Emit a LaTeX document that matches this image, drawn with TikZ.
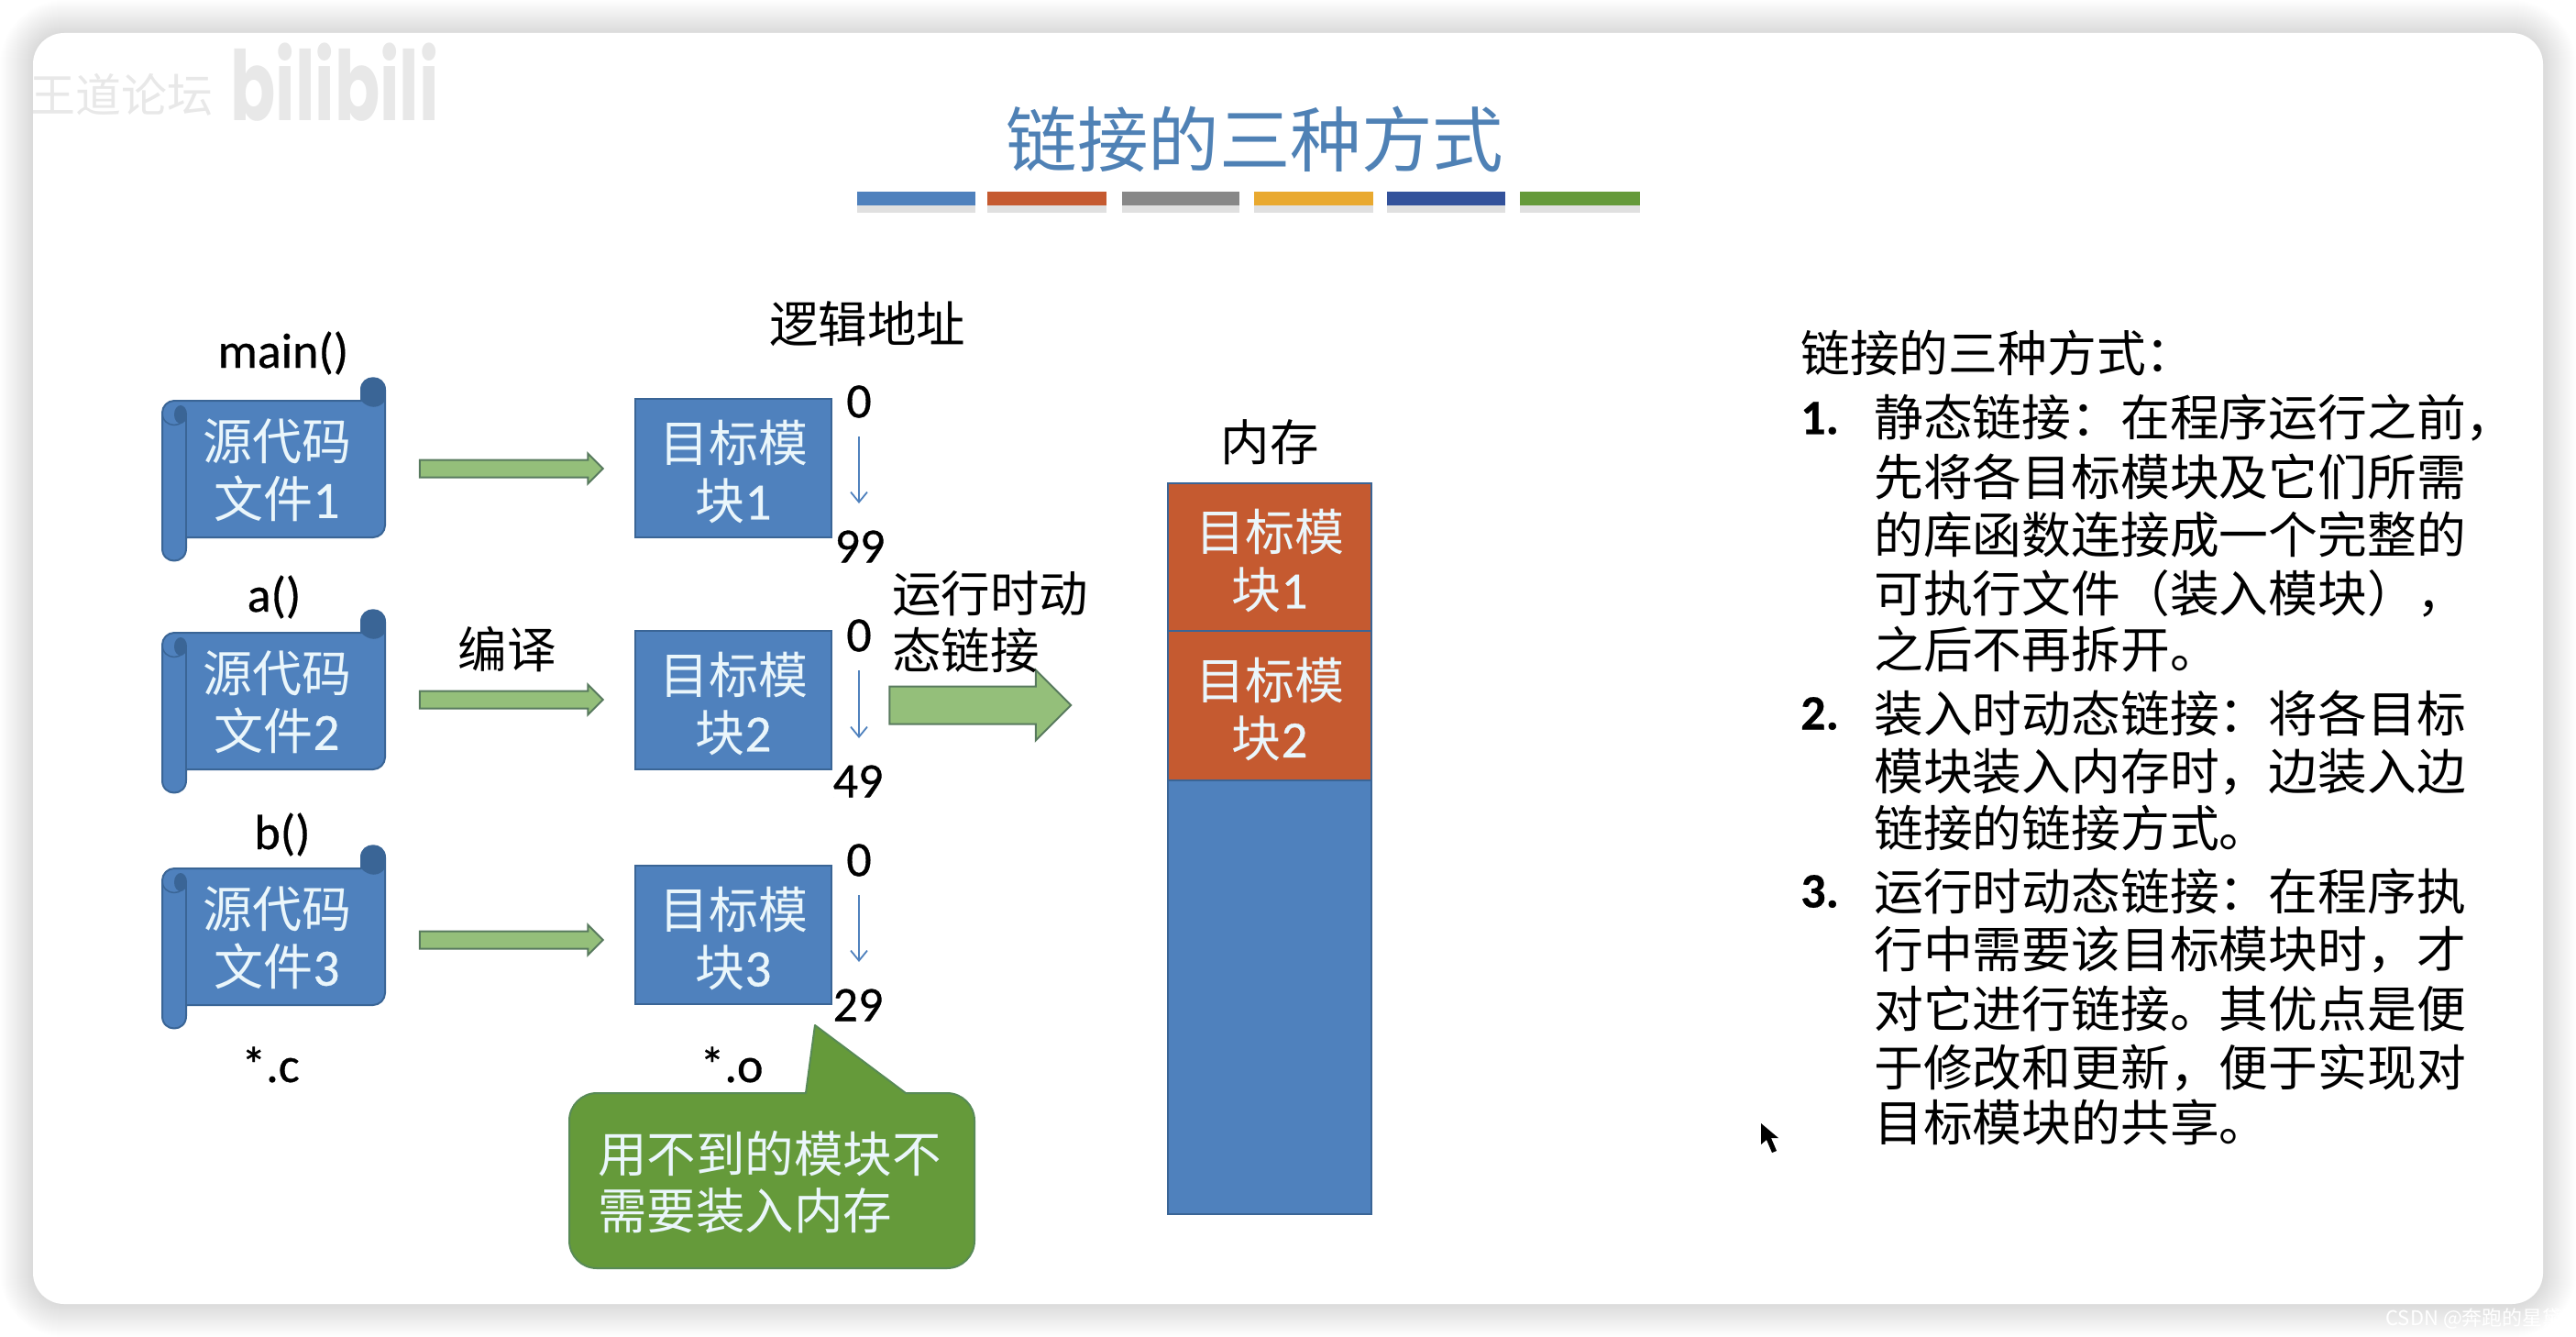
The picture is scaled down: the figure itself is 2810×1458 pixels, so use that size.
\documentclass[tikz,border=0pt]{standalone}
\usepackage{fontspec}
\usetikzlibrary{arrows.meta,shapes.arrows}
\setmainfont{Noto Sans CJK SC}
\newfontfamily\lat[RawFeature={embolden=0.6}]{Carlito}
\newfontfamily\latb[RawFeature={embolden=0.4}]{Carlito Bold}
\newfontfamily\wmark{Poppins}
\definecolor{bluefill}{HTML}{4F81BD}
\definecolor{bluedark}{HTML}{3A6596}
\definecolor{titleblue}{HTML}{4F81B5}
\definecolor{redfill}{HTML}{C55A30}
\definecolor{greenfill}{HTML}{659A3A}
\definecolor{barorange}{HTML}{E9A92F}
\definecolor{barnavy}{HTML}{33529B}
\definecolor{bargray}{HTML}{888888}
\definecolor{arrowgreen}{HTML}{94BF7A}
\definecolor{arrowedge}{HTML}{587A5E}
\definecolor{lighttext}{HTML}{EAF6FB}
\newcommand{\dg}[1]{{\lat\fontsize{57}{63}\selectfont #1}}
\tikzset{
  body/.style={font=\fontsize{53.5}{62}\selectfont,inner sep=0pt,align=center,text=black},
  inbox/.style={font=\fontsize{54}{63}\selectfont,inner sep=0pt,align=center,text=lighttext},
  latin/.style={font=\lat\fontsize{54}{64}\selectfont,inner sep=0pt,text=black},
  modbox/.style={draw=bluedark,fill=bluefill,line width=2pt,minimum width=214pt,minimum height=151pt,inner sep=0pt},
  memcell/.style={draw=bluedark,fill=redfill,line width=1.5pt,minimum width=222pt,inner sep=0pt},
  blockarrow/.style={single arrow,draw=arrowedge,fill=arrowgreen,line width=2pt,inner sep=0pt,
    single arrow tip angle=90,shape border rotate=0,text depth=0pt},
  smallblock/.style={blockarrow,text height=17pt,minimum width=31pt,minimum height=200pt,single arrow head extend=7pt},
  thinarrow/.style={draw=bluefill,line width=1.8pt,-{Straight Barb[length=11pt,width=18pt]}},
  rline/.style={anchor=west,inner sep=0pt,font=\fontsize{53.8}{64}\selectfont,text=black},
  rnum/.style={anchor=west,inner sep=0pt,font=\latb\fontsize{54}{64}\selectfont,text=black},
  scrollbody/.style={fill=bluefill,draw=bluedark,line width=2pt,line join=round},
}
\newcommand{\srcscroll}[3]{%
  \begin{scope}[yshift=#1]
    \draw[scrollbody] (177,450) .. controls (177,443) and (183,437) .. (190,437) -- (394,437) -- (394,425)
      .. controls (394,408) and (420,408) .. (420,425) -- (420,573)
      .. controls (420,580) and (414,586) .. (407,586) -- (203,586) -- (203,598)
      .. controls (203,616) and (177,616) .. (177,598) -- cycle;
    \fill[bluedark] (394,437) -- (394,425) .. controls (394,408) and (420,408) .. (420,425)
      -- (420,437) .. controls (414,446) and (402,446) .. (394,437) -- cycle;
    \fill[bluedark] (197,452) ellipse (7 and 10);
    \draw[bluedark,line width=2pt] (203,450) -- (203,586);
    \draw[bluedark,line width=1.5pt] (177,450) .. controls (177,468) and (203,468) .. (203,450);
    \node[inbox] (#2) at (302,513) {源代码\\文件\dg{#3}};
  \end{scope}
}
\begin{document}
\begin{tikzpicture}[x=1pt,y=-1pt]
\useasboundingbox (0,0) rectangle (2810,1458);
% window shadow
\foreach \d in {36,35,...,1} {
  \pgfmathsetmacro{\rr}{\d+34}
  \fill[black,opacity=0.0048,rounded corners=\rr pt] (36-\d,36-\d) rectangle (2774+\d,1422+\d);
}
\fill[white,rounded corners=34pt] (36,36) rectangle (2774,1422);
% watermarks
\begin{scope}
  \clip (36,40) rectangle (300,140);
  \node[inner sep=0pt,anchor=west,text=black!9,font=\fontsize{50}{50}\selectfont] (wm1) at (32,103) {王道论坛};
\end{scope}
\node[inner sep=0pt,text=black!9,font=\wmark\bfseries\fontsize{66}{66}\selectfont,xscale=1.1,yscale=1.6] (wm2) at (365,90) {bilibili};
\node[inner sep=0pt,text=white,font=\fontsize{22}{22}\selectfont,anchor=east] (wm3) at (2796,1438) {CSDN @奔跑的星黛};
% title
\node[inner sep=0pt,text=titleblue,font=\fontsize{77.5}{77.5}\selectfont] (title) at (1369,152) {链接的三种方式};
\foreach \a/\b in {935/1064,1077/1207,1224/1352,1368/1498,1513/1642,1658/1789}{
  \fill[black,opacity=.12] (\a,224) rectangle (\b,232);
}
\fill[bluefill] (935,209) rectangle (1064,224);
\fill[redfill] (1077,209) rectangle (1207,224);
\fill[bargray] (1224,209) rectangle (1352,224);
\fill[barorange] (1368,209) rectangle (1498,224);
\fill[barnavy] (1513,209) rectangle (1642,224);
\fill[greenfill] (1658,209) rectangle (1789,224);
% source scrolls
\srcscroll{0pt}{s1}{1}
\srcscroll{-253pt}{s2}{2}
\srcscroll{-510pt}{s3}{3}
\node[latin] (lmain) at (309,385) {main()};
\node[latin] (la) at (299,651) {a()};
\node[latin] (lb) at (308,910) {b()};
\node[latin] (lc) at (295,1161) {*.c};
\node[latin] (lo) at (798,1161) {*.o};
% module boxes
\node[modbox] (m1) at (800,510) {};
\node[modbox] (m2) at (800,763) {};
\node[modbox] (m3) at (800,1019) {};
\node[inbox,yshift=-4.5pt] (m1t) at (m1) {目标模\\块\dg{1}};
\node[inbox,yshift=-4.5pt] (m2t) at (m2) {目标模\\块\dg{2}};
\node[inbox,yshift=-4.5pt] (m3t) at (m3) {目标模\\块\dg{3}};
% block arrows
\node[smallblock] (a1) at (553,511) {};
\node[smallblock] (a2) at (553,763) {};
\node[smallblock] (a3) at (553,1025) {};
\node[blockarrow,text height=39pt,minimum width=75pt,minimum height=198pt,single arrow head extend=18pt] (abig) at (1059,769) {};
% labels
\node[body] (ljl) at (946,353) {逻辑地址};
\node[body] (lnc) at (1385,482) {内存};
\node[body] (lby) at (553,708) {编译};
\node[body,anchor=north west,align=left] (lrun) at (973,622) {运行时动\\态链接};
% addresses
\node[latin] (n1a) at (937,438) {0};
\node[latin] (n1b) at (938,596) {99};
\node[latin] (n2a) at (937,693) {0};
\node[latin] (n2b) at (936,852) {49};
\node[latin] (n3a) at (937,938) {0};
\node[latin] (n3b) at (936,1096) {29};
\draw[thinarrow,shorten <=38pt,shorten >=47pt] (n1a.center) -- (n1a.center |- n1b.center);
\draw[thinarrow,shorten <=38pt,shorten >=47pt] (n2a.center) -- (n2a.center |- n2b.center);
\draw[thinarrow,shorten <=38pt,shorten >=47pt] (n3a.center) -- (n3a.center |- n3b.center);
% memory
\node[draw=bluedark,fill=bluefill,line width=1.5pt,minimum width=222pt,minimum height=797pt,inner sep=0pt] (mem) at (1385,925.5) {};
\node[memcell,minimum height=161pt] (mm1) at (1385,607.5) {};
\node[memcell,minimum height=163pt] (mm2) at (1385,769.5) {};
\node[inbox,yshift=-4pt] (mm1t) at (mm1) {目标模\\块\dg{1}};
\node[inbox,yshift=-4.5pt] (mm2t) at (mm2) {目标模\\块\dg{2}};
% callout
\draw[fill=greenfill,draw=greenfill!70!bluedark,line width=2pt,line join=round] (651,1192) -- (879,1192) -- (889,1118) -- (988,1192) -- (1033,1192)
  .. controls (1049.5,1192) and (1063,1205.5) .. (1063,1222) -- (1063,1353)
  .. controls (1063,1369.5) and (1049.5,1383) .. (1033,1383) -- (651,1383)
  .. controls (634.5,1383) and (621,1369.5) .. (621,1353) -- (621,1222)
  .. controls (621,1205.5) and (634.5,1192) .. (651,1192) -- cycle;
\node[inner sep=0pt,anchor=north west,align=left,text=lighttext,font=\fontsize{53.5}{62}\selectfont] (ctext) at (652,1233) {用不到的模块不\\需要装入内存};
% right text
\node[rline] (r0) at (1964,385) {链接的三种方式：};
\node[rnum] (k1) at (1964,456) {1.};
\node[rline] (r1) at (2044,456) {静态链接：在程序运行之前，};
\node[rline] (r2) at (2044,520) {先将各目标模块及它们所需};
\node[rline] (r3) at (2044,583) {的库函数连接成一个完整的};
\node[rline] (r4) at (2044,647) {可执行文件（装入模块），};
\node[rline] (r5) at (2044,708) {之后不再拆开。};
\node[rnum] (k2) at (1964,778) {2.};
\node[rline] (r6) at (2044,778) {装入时动态链接：将各目标};
\node[rline] (r7) at (2044,842) {模块装入内存时，边装入边};
\node[rline] (r8) at (2044,903) {链接的链接方式。};
\node[rnum] (k3) at (1964,972) {3.};
\node[rline] (r9) at (2044,972) {运行时动态链接：在程序执};
\node[rline] (r10) at (2044,1036) {行中需要该目标模块时，才};
\node[rline] (r11) at (2044,1100) {对它进行链接。其优点是便};
\node[rline] (r12) at (2044,1165) {于修改和更新，便于实现对};
\node[rline] (r13) at (2044,1224) {目标模块的共享。};
% cursor
\fill[black] (1921,1225) -- (1921,1248) -- (1927,1243) -- (1933,1257) -- (1938,1255) -- (1932,1241) -- (1940,1241) -- cycle;
\end{tikzpicture}
\end{document}
